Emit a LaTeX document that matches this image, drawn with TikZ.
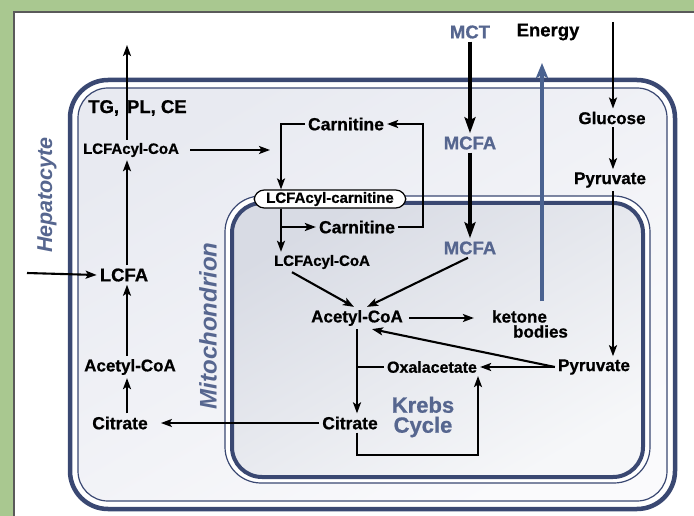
\documentclass[tikz,border=0pt]{standalone}
\usepackage{fontspec}
\setmainfont{Liberation Sans}[BoldFeatures={FakeBold=0.8}]
\usepackage{xcolor}
\usepackage{tikz}
\usetikzlibrary{positioning, arrows.meta}
\definecolor{cellnavy}{HTML}{3A4872}
\definecolor{labelblue}{HTML}{56668F}
\definecolor{energyblue}{HTML}{4A6290}
\definecolor{bggreen}{HTML}{A9C890}
\definecolor{framegray}{HTML}{5A5A5A}
\definecolor{heptop}{HTML}{E8EAF1}
\definecolor{hepbot}{HTML}{FAFAFC}
\definecolor{mitotop}{HTML}{D8DBE4}
\definecolor{mitobot}{HTML}{F6F7F9}

\begin{document}
\begin{tikzpicture}[x=1pt, y=-1pt,
  lbl/.style={font=\bfseries\fontsize{#1}{#1}\selectfont, inner sep=3pt},
  lbl/.default=17,
  tag/.style={font=\bfseries\itshape\fontsize{#1}{#1}\selectfont, text=labelblue, rotate=90},
  arr/.style={line width=2.1pt, -{Stealth[length=11pt,width=8pt,inset=2.5pt]}},
  bigarr/.style={line width=3.2pt, -{Stealth[length=16pt,width=11pt,inset=3pt]}},
  enarr/.style={line width=3.5pt, draw=energyblue, -{Stealth[length=15pt,width=12pt,inset=3pt]}}]
  \useasboundingbox (0,0) rectangle (694,516);

  % page and cells
  \fill[bggreen] (0,0) rectangle (694,516);
  \fill[white] (13,11) rectangle (694,516);
  \draw[framegray, line width=1.5pt] (14,516) -- (14,12) -- (694,12);
  \draw[cellnavy, line width=4.5pt, fill=white, rounded corners=38pt] (70,80) rectangle (675,509);
  \draw[cellnavy, line width=1.2pt, top color=heptop, bottom color=hepbot, shading angle=30,
        rounded corners=30pt] (78,88) rectangle (667,501);
  \draw[cellnavy, line width=1.2pt, fill=white, rounded corners=36pt] (225,196) rectangle (650,483);
  \draw[cellnavy, line width=4pt, top color=mitotop, bottom color=mitobot, shading angle=30,
        rounded corners=30pt] (232,203) rectangle (643,477);

  \node[tag=21.5] (hepa) at (47,195) {Hepatocyte};
  \node[tag=24] (mito) at (208,326) {Mitochondrion};

  % cytosol
  \node[lbl=18.5, anchor=west] (tgpl) at (85,108) {TG,\hspace{8pt}PL, CE};
  \node[lbl=15] (acyl1) at (131,150) {LCFAcyl-CoA};
  \node[lbl=18.5] (lcfa) at (124,275) {LCFA};
  \node[lbl] (acoa1) at (130,367) {Acetyl-CoA};
  \node[lbl=17.5] (cit1) at (120,423) {Citrate};
  \node[lbl=17.5] (carn1) at (346,124) {Carnitine};
  \node[lbl=15, draw, line width=1.2pt, fill=white, rounded corners=10pt,
        inner xsep=12pt, inner ysep=2pt] (acarn) at (330,199) {LCFAcyl-carnitine};
  \node[lbl=18.5, text=labelblue] (mct) at (470,32) {MCT};
  \node[lbl=18.5] (energy) at (548,32) {Energy};
  \node[lbl=18.5, text=labelblue] (mcfa1) at (470,143) {MCFA};
  \node[lbl] (glc) at (612,118) {Glucose};
  \node[lbl] (pyr1) at (610,180) {Pyruvate};

  % mitochondrion
  \node[lbl=17.5] (carn2) at (357,227) {Carnitine};
  \node[lbl=15] (acyl2) at (322,262) {LCFAcyl-CoA};
  \node[lbl=18.5, text=labelblue] (mcfa2) at (470,248) {MCFA};
  \node[lbl] (acoa2) at (357,318) {Acetyl-CoA};
  \node[font=\bfseries\fontsize{17}{15}\selectfont, align=left, inner sep=3pt] (ket) at (530,324)
        {ketone\\\hspace*{21pt}bodies};
  \node[lbl] (pyr2) at (594,367) {Pyruvate};
  \node[lbl=16] (oxa) at (432,367) {Oxalacetate};
  \node[lbl=17.5] (cit2) at (350,423) {Citrate};
  \node[font=\bfseries\fontsize{22}{20}\selectfont, text=labelblue, align=center] (krebs) at (423,417)
        {Krebs\\Cycle};

  \coordinate (tgout) at (127,45);
  \coordinate (lcfain) at (27,273);
  \coordinate (acylto) at (270,150);
  \coordinate (cdown) at ([xshift=-49pt]acarn.north);
  \coordinate (cdrop) at ([xshift=-49pt]acarn.south);
  \coordinate (rloop) at (423,175);
  \coordinate (entip) at (542,63);
  \coordinate (glcin) at (613,22);
  \coordinate (kloop) at (478,455);

  % fatty acid side
  \draw[arr] (acyl1.north -| tgout) -- (tgout);
  \draw[arr] (lcfa.north -| tgout) -- (acyl1.south -| tgout);
  \draw[arr] (acoa1.north -| tgout) -- (lcfa.south -| tgout);
  \draw[arr] (cit1.north -| tgout) -- (acoa1.south -| tgout);
  \draw[arr] (lcfain) -- (lcfa.west);
  \draw[arr, shorten <=8pt] (acyl1.east) -- (acylto);
  \draw[arr] (carn1.west) -| (cdown);
  \draw[arr] (carn2.east) -| (rloop) |- (carn1.east);
  \draw[arr] (cdrop) -- (cdrop |- acyl2.north);
  \draw[arr] (cdrop) |- (carn2.west);
  \draw[arr] ([xshift=-30pt]acyl2.south) -- ([xshift=-3pt]acoa2.north);

  % medium chain and glucose
  \draw[bigarr] (mct.south) -- (mcfa1.north);
  \draw[bigarr] (mcfa1.south) -- (mcfa2.north);
  \draw[arr] ([xshift=-2pt]mcfa2.south) -- ([xshift=10pt]acoa2.north);
  \draw[arr] (glcin) -- (glcin |- glc.north);
  \draw[arr] (glc.south -| glcin) -- (pyr1.north -| glcin);
  \draw[arr] (pyr1.south -| glcin) -- (pyr2.north -| glcin);
  \draw[arr, shorten <=3pt, shorten >=15pt] (acoa2.east) -- (ket.west |- acoa2.east);
  \draw[enarr, shorten <=6pt] (ket.north -| entip) -- (entip);

  % Krebs cycle
  \draw[arr] (pyr2.west) -- (oxa.east);
  \draw[arr] (pyr2.west) -- ([xshift=15pt]acoa2.south);
  \draw[arr] (acoa2.south) -- (acoa2.south |- cit2.north);
  \draw[line width=2.1pt] (oxa.west) -- (oxa.west -| acoa2.south);
  \draw[arr] (cit2.south -| acoa2.south) |- (kloop) -- (kloop |- oxa.south);
  \draw[arr, shorten >=10pt] (cit2.west) -- (cit1.east);
\end{tikzpicture}
\end{document}
